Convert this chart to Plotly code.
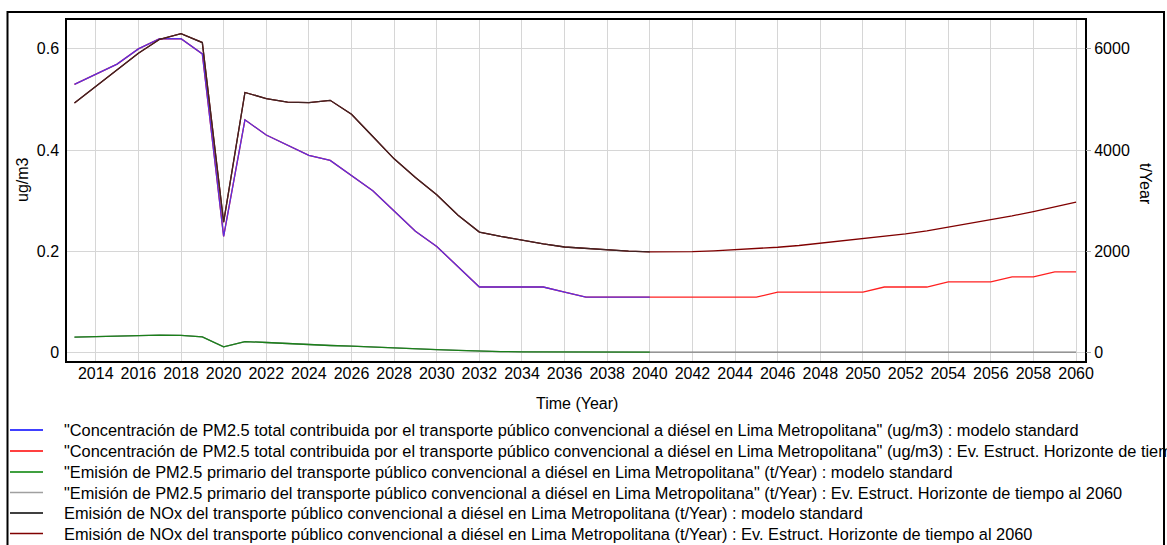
import plotly.graph_objects as go

# ---------------- data ----------------
years_std = list(range(2013, 2041))   # modelo standard horizon
years_ev = list(range(2013, 2061))    # Ev. Estruct. horizon to 2060

# PM2.5 concentration (ug/m3)
pm25_conc_std = [0.53, 0.55, 0.57, 0.60, 0.62, 0.62, 0.59, 0.23, 0.46, 0.43,
                 0.41, 0.39, 0.38, 0.35, 0.32, 0.28, 0.24, 0.21, 0.17, 0.13,
                 0.13, 0.13, 0.13, 0.12, 0.11, 0.11, 0.11, 0.11]
pm25_conc_ext = [0.11, 0.11, 0.11, 0.11, 0.11, 0.12, 0.12, 0.12, 0.12, 0.12,
                 0.13, 0.13, 0.13, 0.14, 0.14, 0.14, 0.15, 0.15, 0.16, 0.16]
pm25_conc_ev = pm25_conc_std + pm25_conc_ext

# Primary PM2.5 emission (t/Year)
pm25_emis_std = [310, 320, 330, 340, 350, 345, 317, 119, 224, 205,
                 182, 160, 146, 133, 119, 99, 82, 66, 48, 33,
                 26, 20, 17, 15, 15, 15, 15, 15]
pm25_emis_ext = [15] * 20
pm25_emis_ev = pm25_emis_std + pm25_emis_ext

# NOx emission (t/Year)
nox_std = [4930, 5260, 5590, 5915, 6190, 6300, 6125, 2580, 5140, 5020,
           4950, 4940, 4985, 4710, 4270, 3830, 3460, 3120, 2715, 2385,
           2300, 2220, 2150, 2090, 2060, 2030, 2008, 1995]
nox_ext = [1995, 2000, 2015, 2035, 2060, 2085, 2120, 2165, 2205, 2250,
           2300, 2350, 2410, 2480, 2550, 2625, 2705, 2790, 2880, 2975]
nox_ev = nox_std + nox_ext

x_ticks = list(range(2014, 2061, 2))
y1_ticks = [0, 0.2, 0.4, 0.6]
y1_labels = ["0", "0.2", "0.4", "0.6"]
y2_ticks = [0, 2000, 4000, 6000]

legend_entries = [
    ('"Concentración de PM2.5 total contribuida por el transporte público convencional a diésel en Lima Metropolitana" (ug/m3) : modelo standard', "#0000ff"),
    ('"Concentración de PM2.5 total contribuida por el transporte público convencional a diésel en Lima Metropolitana" (ug/m3) : Ev. Estruct. Horizonte de tiempo al 2060', "#ff0000"),
    ('"Emisión de PM2.5 primario del transporte público convencional a diésel en Lima Metropolitana" (t/Year) : modelo standard', "#008000"),
    ('"Emisión de PM2.5 primario del transporte público convencional a diésel en Lima Metropolitana" (t/Year) : Ev. Estruct. Horizonte de tiempo al 2060', "#a0a0a0"),
    ("Emisión de NOx del transporte público convencional a diésel en Lima Metropolitana (t/Year) : modelo standard", "#000000"),
    ("Emisión de NOx del transporte público convencional a diésel en Lima Metropolitana (t/Year) : Ev. Estruct. Horizonte de tiempo al 2060", "#800000"),
]

# ---------------- layout geometry ----------------
W, H = 1167, 545
L, R, T, B = 67, 1085, 20, 361
FONT = "Liberation Sans, Arial, sans-serif"


def px(xp):
    return (xp - L) / (R - L)


def py(yp):
    return (B - yp) / (B - T)


fig = go.Figure()
LW = 1.3

# Ev. Estruct. series first, standard series drawn over them
fig.add_trace(go.Scatter(x=years_ev, y=pm25_emis_ev, yaxis="y2", mode="lines",
                         line=dict(color="#808080", width=LW), showlegend=False))
fig.add_trace(go.Scatter(x=years_std, y=pm25_emis_std, yaxis="y2", mode="lines",
                         line=dict(color="#1a801a", width=LW), showlegend=False))
fig.add_trace(go.Scatter(x=years_ev, y=nox_ev, yaxis="y2", mode="lines",
                         line=dict(color="#800000", width=LW), showlegend=False))
fig.add_trace(go.Scatter(x=years_std, y=nox_std, yaxis="y2", mode="lines",
                         line=dict(color="#402424", width=LW), showlegend=False))
fig.add_trace(go.Scatter(x=years_ev, y=pm25_conc_ev, mode="lines",
                         line=dict(color="#ff2020", width=LW), showlegend=False))
fig.add_trace(go.Scatter(x=years_std, y=pm25_conc_std, mode="lines",
                         line=dict(color="#5a30e0", width=LW), showlegend=False))

shapes = []
annotations = []

# outer frame
shapes.append(dict(type="rect", xref="paper", yref="paper",
                   x0=px(7.5), x1=px(1164), y0=py(600), y1=py(12),
                   line=dict(color="black", width=2), layer="below"))

# legend below the chart
row_y = [430, 451, 472, 492.5, 513, 533.5]
for (label, color), yy in zip(legend_entries, row_y):
    shapes.append(dict(type="line", xref="paper", yref="paper",
                       x0=px(10), x1=px(43), y0=py(yy), y1=py(yy),
                       line=dict(color=color, width=1.5)))
    annotations.append(dict(text=label, xref="paper", yref="paper",
                            x=px(62), y=py(yy), xanchor="left", yanchor="middle",
                            showarrow=False, font=dict(family=FONT, size=16.35, color="black")))

# axis titles
annotations.append(dict(text="Time (Year)", xref="paper", yref="paper",
                        x=px(577), y=py(404), xanchor="center", yanchor="middle",
                        showarrow=False, font=dict(family=FONT, size=16, color="black")))
annotations.append(dict(text="ug/m3", xref="paper", yref="paper",
                        x=px(22), y=py(180), xanchor="center", yanchor="middle",
                        textangle=-90, showarrow=False,
                        font=dict(family=FONT, size=16, color="black")))
annotations.append(dict(text="t/Year", xref="paper", yref="paper",
                        x=px(1146), y=py(184), xanchor="center", yanchor="middle",
                        textangle=90, showarrow=False,
                        font=dict(family=FONT, size=16, color="black")))

fig.update_layout(
    width=W, height=H,
    margin=dict(l=L, r=W - R, t=T, b=H - B, pad=0),
    paper_bgcolor="white", plot_bgcolor="white",
    font=dict(family=FONT, size=16, color="black"),
    showlegend=False,
    xaxis=dict(range=[2012.65, 2060.42], tickmode="array", tickvals=x_ticks,
               ticktext=[str(v) for v in x_ticks],
               showgrid=True, gridcolor="#d6d6d6", gridwidth=1,
               showline=True, linecolor="black", linewidth=1.5, mirror=True,
               ticks="", zeroline=False, tickfont=dict(size=16),
               ticklabelstandoff=-3),
    yaxis=dict(range=[-0.016, 0.657], tickmode="array", tickvals=y1_ticks,
               ticktext=y1_labels, showgrid=True, gridcolor="#d6d6d6", gridwidth=1,
               showline=True, linecolor="black", linewidth=1.5, mirror=True,
               ticks="outside", ticklen=3, tickcolor="white",
               zeroline=False, tickfont=dict(size=16)),
    yaxis2=dict(range=[-160, 6570], overlaying="y", side="right",
                tickmode="array", tickvals=y2_ticks,
                ticktext=[str(v) for v in y2_ticks], showgrid=False,
                ticks="outside", ticklen=5, tickcolor="#a8a8a8",
                showline=False, zeroline=False, tickfont=dict(size=16)),
    shapes=shapes,
    annotations=annotations,
)

fig.write_html("out.html")
